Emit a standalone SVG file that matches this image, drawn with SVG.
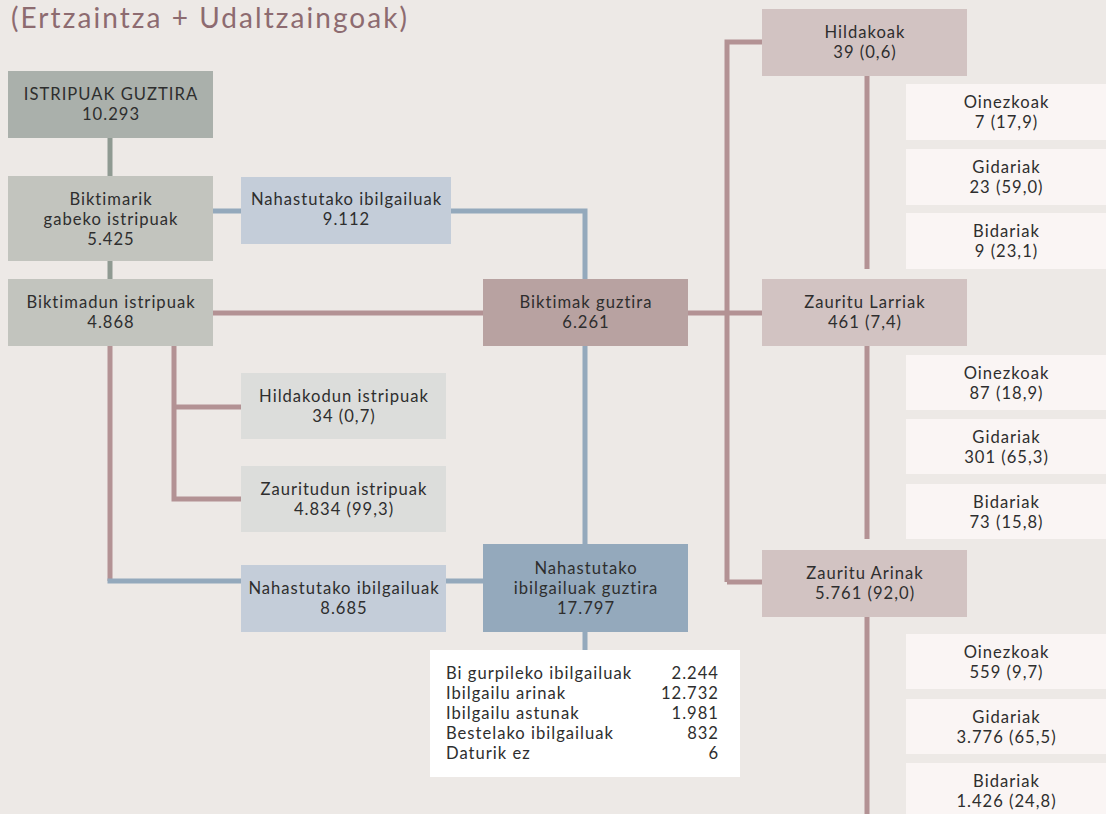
<svg xmlns="http://www.w3.org/2000/svg" width="1106" height="814" viewBox="0 0 1106 814">
<style>
text{font-family:Lato,"Noto Sans",sans-serif;font-size:16.6px;letter-spacing:1px;fill:#2e2e2e;text-anchor:middle}
.title{font-size:28px;letter-spacing:0;fill:#8d6b70;text-anchor:start}
.tl{text-anchor:start}
.tr{text-anchor:end}
.g{stroke:#8f9a92;stroke-width:5;fill:none}
.m{stroke:#b39294;stroke-width:5;fill:none}
.b{stroke:#94a9bc;stroke-width:5;fill:none}
.top{fill:#aab0ab}
.grey{fill:#c2c4be}
.lgrey{fill:#dcdddb}
.lblue{fill:#c4cdd9}
.dblue{fill:#94a9bc}
.mauve{fill:#b8a2a1}
.lmauve{fill:#d2c3c2}
.pale{fill:#faf5f4}
</style>
<rect width="1106" height="814" fill="#ede9e6"/>
<text class="title" x="11" y="28" textLength="396" lengthAdjust="spacing">(Ertzaintza + Udaltzaingoak)</text>
<g id="connectors">
<path class="g" d="M110 138V176M110 261V279"/>
<path class="b" d="M213 211H241M451 211H585V544M585 632V650"/>
<path class="m" d="M213 313H483M688 313H762M727 582V42H762M727 582H762"/>
<path class="m" d="M110 346V581M174 346V499H241M174 407H241"/>
<path class="b" d="M107.5 581H241M446 581H483"/>
<path class="m" d="M867 76V269M867 346V539M867 617V814"/>
</g>
<g id="n-istripuak"><rect class="top" x="8" y="71" width="205" height="67"/><text x="111" y="100">ISTRIPUAK GUZTIRA</text><text x="111" y="120">10.293</text></g>
<g id="n-biktimarik"><rect class="grey" x="8" y="176" width="205" height="85"/><text x="111" y="205">Biktimarik</text><text x="111" y="225">gabeko istripuak</text><text x="111" y="245">5.425</text></g>
<g id="n-nahast1"><rect class="lblue" x="241" y="177" width="210" height="67"/><text x="346.5" y="205">Nahastutako ibilgailuak</text><text x="346.5" y="225">9.112</text></g>
<g id="n-biktimadun"><rect class="grey" x="8" y="279" width="205" height="67"/><text x="111" y="308">Biktimadun istripuak</text><text x="111" y="328">4.868</text></g>
<g id="n-biktimak"><rect class="mauve" x="483" y="279" width="205" height="67"/><text x="586" y="308">Biktimak guztira</text><text x="586" y="328">6.261</text></g>
<g id="n-hildakodun"><rect class="lgrey" x="241" y="373" width="205" height="66"/><text x="344" y="402">Hildakodun istripuak</text><text x="344" y="422">34 (0,7)</text></g>
<g id="n-zauritudun"><rect class="lgrey" x="241" y="466" width="205" height="66"/><text x="344" y="495">Zauritudun istripuak</text><text x="344" y="515">4.834 (99,3)</text></g>
<g id="n-nahast2"><rect class="lblue" x="241" y="565" width="205" height="67"/><text x="344" y="594">Nahastutako ibilgailuak</text><text x="344" y="614">8.685</text></g>
<g id="n-nahastguztira"><rect class="dblue" x="483" y="544" width="205" height="88"/><text x="586" y="574">Nahastutako</text><text x="586" y="594">ibilgailuak guztira</text><text x="586" y="614">17.797</text></g>
<g id="n-table"><rect fill="#ffffff" x="430" y="650" width="310" height="127"/>
<text class="tl" x="446" y="679">Bi gurpileko ibilgailuak</text><text class="tr" x="719" y="679">2.244</text>
<text class="tl" x="446" y="699">Ibilgailu arinak</text><text class="tr" x="719" y="699">12.732</text>
<text class="tl" x="446" y="719">Ibilgailu astunak</text><text class="tr" x="719" y="719">1.981</text>
<text class="tl" x="446" y="739">Bestelako ibilgailuak</text><text class="tr" x="719" y="739">832</text>
<text class="tl" x="446" y="759">Daturik ez</text><text class="tr" x="719" y="759">6</text></g>
<g id="n-hildakoak"><rect class="lmauve" x="762" y="9" width="205" height="67"/><text x="865" y="38">Hildakoak</text><text x="865" y="58">39 (0,6)</text></g>
<g id="n-h-oin"><rect class="pale" x="906" y="84" width="200" height="56"/><text x="1006.5" y="108">Oinezkoak</text><text x="1006.5" y="128">7 (17,9)</text></g>
<g id="n-h-gid"><rect class="pale" x="906" y="149" width="200" height="56"/><text x="1006.5" y="173">Gidariak</text><text x="1006.5" y="193">23 (59,0)</text></g>
<g id="n-h-bid"><rect class="pale" x="906" y="213" width="200" height="56"/><text x="1006.5" y="237">Bidariak</text><text x="1006.5" y="257">9 (23,1)</text></g>
<g id="n-larriak"><rect class="lmauve" x="762" y="279" width="205" height="67"/><text x="865" y="308">Zauritu Larriak</text><text x="865" y="328">461 (7,4)</text></g>
<g id="n-l-oin"><rect class="pale" x="906" y="355" width="200" height="55"/><text x="1006.5" y="379">Oinezkoak</text><text x="1006.5" y="399">87 (18,9)</text></g>
<g id="n-l-gid"><rect class="pale" x="906" y="419" width="200" height="55"/><text x="1006.5" y="443">Gidariak</text><text x="1006.5" y="463">301 (65,3)</text></g>
<g id="n-l-bid"><rect class="pale" x="906" y="484" width="200" height="55"/><text x="1006.5" y="508">Bidariak</text><text x="1006.5" y="528">73 (15,8)</text></g>
<g id="n-arinak"><rect class="lmauve" x="762" y="550" width="205" height="67"/><text x="865" y="579">Zauritu Arinak</text><text x="865" y="599">5.761 (92,0)</text></g>
<g id="n-a-oin"><rect class="pale" x="906" y="634" width="200" height="55"/><text x="1006.5" y="658">Oinezkoak</text><text x="1006.5" y="678">559 (9,7)</text></g>
<g id="n-a-gid"><rect class="pale" x="906" y="699" width="200" height="55"/><text x="1006.5" y="723">Gidariak</text><text x="1006.5" y="743">3.776 (65,5)</text></g>
<g id="n-a-bid"><rect class="pale" x="906" y="763" width="200" height="60"/><text x="1006.5" y="787">Bidariak</text><text x="1006.5" y="807">1.426 (24,8)</text></g>
</svg>
